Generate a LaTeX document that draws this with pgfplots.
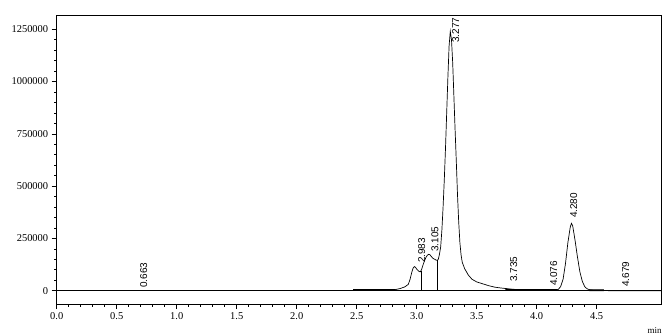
\documentclass[border=0pt]{standalone}
\usepackage{pgfplots}
\pgfplotsset{compat=1.18}
\usepackage{fontspec}
\setmainfont{Liberation Serif}
\newfontfamily\lblfont{Liberation Sans}
\begin{document}
\begin{tikzpicture}
\useasboundingbox (-56.7bp,-32bp) rectangle (607.3bp,304bp);
\begin{axis}[
  at={(0,0)}, anchor=south west,
  scale only axis, width=604.3bp, height=289bp,
  xmin=0, xmax=5.036, ymin=-63600, ymax=1318000,
  axis line style={line width=0.8pt},
  tick align=outside, tick pos=left,
  major tick length=5bp, minor tick length=2.5bp,
  every tick/.style={black, line width=0.6pt},
  xtick={0,0.5,...,4.5}, minor x tick num=4,
  ytick={0,250000,500000,750000,1000000,1250000}, minor y tick num=4,
  scaled y ticks=false,
  xticklabel style={/pgf/number format/.cd, fixed, fixed zerofill, precision=1},
  yticklabel style={/pgf/number format/.cd, fixed, 1000 sep={}},
  /pgf/number format/assume math mode=true,
  tick label style={font=\fontsize{10.5}{12}\selectfont},
  clip=true,
]
\addplot[black, line width=0.7pt] coordinates {(0,0) (5.036,0)};
\addplot[black, line width=0.7pt] coordinates {
(2.47,3000) (2.60,3000) (2.75,3500) (2.82,5000) (2.86,10000) (2.90,18000)
(2.93,30000) (2.945,55000) (2.96,90000) (2.97,108000) (2.98,115000)
(2.99,112000) (3.00,103000) (3.01,97000) (3.02,92000) (3.03,90000)
(3.04,100000) (3.05,118000) (3.06,135000) (3.07,150000) (3.08,162000)
(3.09,170000) (3.10,174000) (3.11,172000) (3.12,165000) (3.13,158000)
(3.14,153000) (3.15,150000) (3.16,147000) (3.17,145000) (3.18,150000)
(3.19,175000) (3.20,210000) (3.21,290000) (3.22,400000) (3.23,530000)
(3.24,680000) (3.25,850000) (3.26,1020000) (3.27,1170000) (3.28,1240000)
(3.29,1200000) (3.30,1090000) (3.31,930000) (3.32,770000) (3.33,620000)
(3.34,460000) (3.35,330000) (3.36,230000) (3.37,170000) (3.38,135000)
(3.40,105000) (3.43,75000) (3.46,55000) (3.50,42000) (3.55,33000)
(3.60,24000) (3.65,17000) (3.70,13000) (3.75,10000) (3.80,6000)
(3.90,4000) (4.00,3000) (4.15,3000) (4.18,6000) (4.20,20000)
(4.22,55000) (4.24,130000) (4.26,230000) (4.28,305000) (4.29,322000)
(4.30,310000) (4.32,240000) (4.34,160000) (4.36,90000) (4.38,45000)
(4.40,20000) (4.42,9000) (4.45,3000) (4.55,2000) (4.60,0) (5.036,0)};
% drop lines
\addplot[black, line width=0.7pt] coordinates {(3.035,0) (3.035,92000)};
\addplot[black, line width=0.7pt] coordinates {(3.175,0) (3.175,147000)};
% integration baselines
\addplot[black, line width=1.8pt] coordinates {(2.47,3000) (2.82,3500)};
\addplot[black, line width=1.8pt] coordinates {(3.74,4000) (4.17,3000)};
\addplot[black, line width=1.8pt] coordinates {(4.44,2500) (4.56,2000)};
% peak labels
\begin{scope}[every node/.style={rotate=90, anchor=north west, inner sep=0pt, font=\lblfont\fontsize{10}{12}\selectfont}]
\node at (axis cs:0.694,13000) {0.663};
\node at (axis cs:3.010,132000) {2.983};
\node at (axis cs:3.120,185000) {3.105};
\node at (axis cs:3.294,1184000) {3.277};
\node at (axis cs:3.777,42000) {3.735};
\node at (axis cs:4.110,22000) {4.076};
\node at (axis cs:4.277,347000) {4.280};
\node at (axis cs:4.710,18000) {4.679};
\end{scope}
\end{axis}
\node[font=\fontsize{9}{10}\selectfont] at (598bp,-27bp) {min};
\end{tikzpicture}
\end{document}
